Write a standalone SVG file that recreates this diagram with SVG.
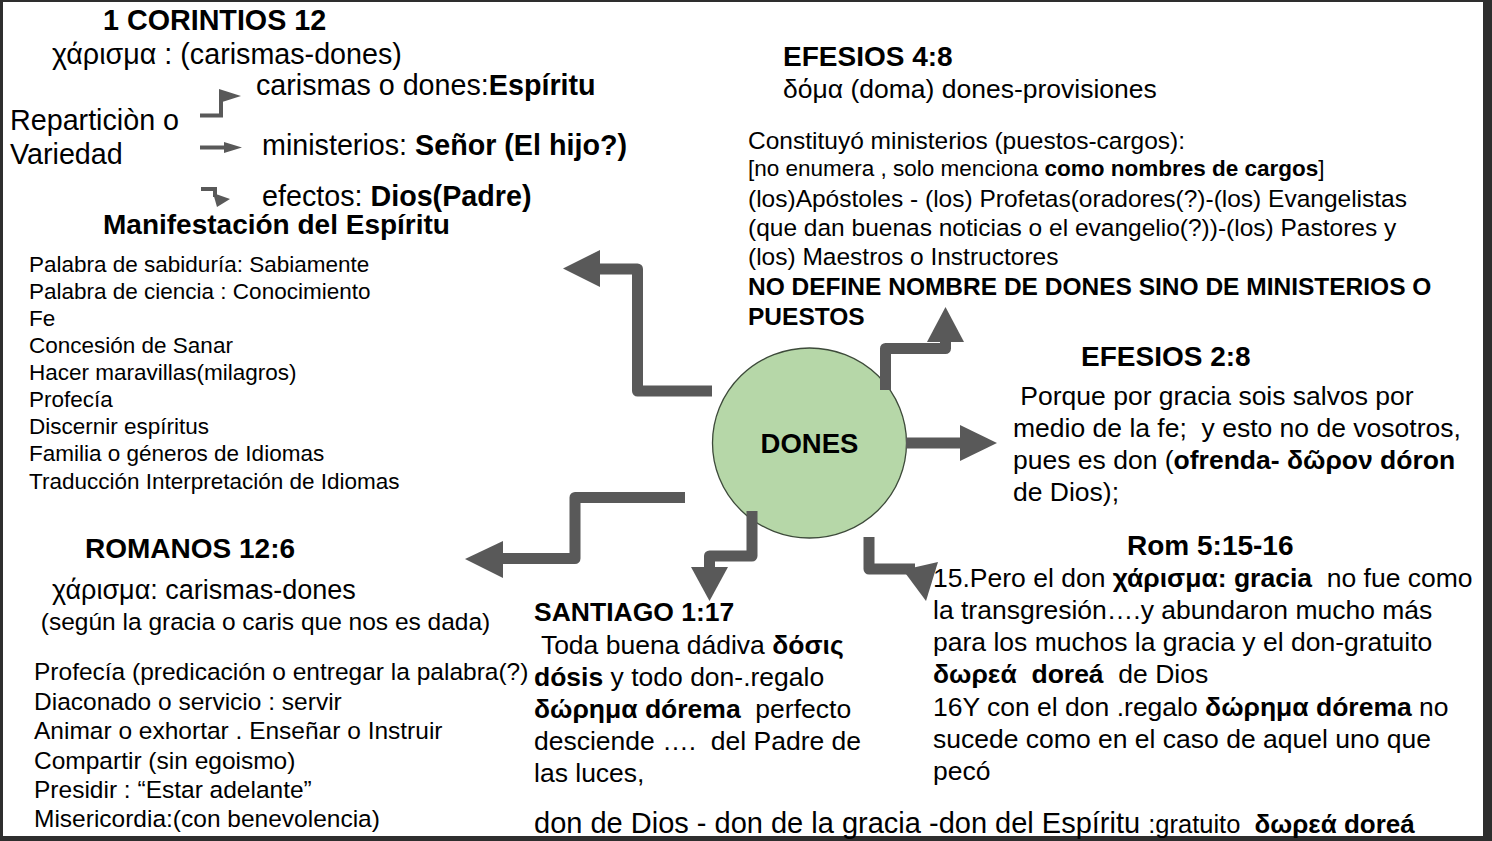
<svg xmlns="http://www.w3.org/2000/svg" width="1492" height="841" viewBox="0 0 1492 841">
<style>
text{font-family:"Liberation Sans",Arial,"DejaVu Sans",sans-serif;fill:#000;white-space:pre}
.b{font-weight:bold}
.f28{font-size:28px}
.f287{font-size:28.7px}
.f265{font-size:26.5px}
.f245{font-size:24.5px}
.f225{font-size:22.5px}
.arr{fill:none;stroke:#595959;stroke-width:11;stroke-linejoin:round}
.sm{fill:none;stroke:#595959;stroke-width:4}
.ah{fill:#595959}
</style>
<rect width="1492" height="841" fill="#2e2e2e"/>
<rect x="3" y="2" width="1480" height="834" fill="#ffffff"/>

<g id="corintios12">
<text x="103" y="30" class="b f287">1 CORINTIOS 12</text>
<text x="52" y="64" class="f287">χάρισμα : (carismas-dones)</text>
<text x="256" y="95" class="f287">carismas o dones:<tspan class="b">Espíritu</tspan></text>
<text x="10" y="130" class="f287">Reparticiòn o</text>
<text x="10" y="164" class="f287">Variedad</text>
<text x="262" y="155" class="f287">ministerios: <tspan class="b">Señor (El hijo?)</tspan></text>
<text x="262" y="206" class="f287">efectos: <tspan class="b">Dios(Padre)</tspan></text>
</g>

<g id="manifestacion">
<text x="103" y="234" class="b f28">Manifestación del Espíritu</text>
<text x="29" y="272" class="f225">Palabra de sabiduría: Sabiamente</text>
<text x="29" y="299" class="f225">Palabra de ciencia : Conocimiento</text>
<text x="29" y="326" class="f225">Fe</text>
<text x="29" y="353" class="f225">Concesión de Sanar</text>
<text x="29" y="380" class="f225">Hacer maravillas(milagros)</text>
<text x="29" y="407" class="f225">Profecía</text>
<text x="29" y="434" class="f225">Discernir espíritus</text>
<text x="29" y="461" class="f225">Familia o géneros de Idiomas</text>
<text x="29" y="489" class="f225">Traducción Interpretación de Idiomas</text>
</g>

<g id="efesios48">
<text x="783" y="66" class="b f28">EFESIOS 4:8</text>
<text x="783" y="98" class="f265">δόμα (doma) dones-provisiones</text>
<text x="748" y="149" class="f245">Constituyó ministerios (puestos-cargos):</text>
<text x="748" y="176" class="f225">[no enumera , solo menciona <tspan class="b">como nombres de cargos</tspan>]</text>
<text x="748" y="207" class="f245">(los)Apóstoles - (los) Profetas(oradores(?)-(los) Evangelistas</text>
<text x="748" y="236" class="f245">(que dan buenas noticias o el evangelio(?))-(los) Pastores y</text>
<text x="748" y="265" class="f245">(los) Maestros o Instructores</text>
<text x="748" y="295" class="b f245">NO DEFINE NOMBRE DE DONES SINO DE MINISTERIOS O</text>
<text x="748" y="325" class="b f245">PUESTOS</text>
</g>

<g id="efesios28">
<text x="1081" y="366" class="b f28">EFESIOS 2:8</text>
<text x="1013" y="405" class="f265"> Porque por gracia sois salvos por</text>
<text x="1013" y="437" class="f265">medio de la fe;  y esto no de vosotros,</text>
<text x="1013" y="469" class="f265">pues es don (<tspan class="b">ofrenda- δῶρον dóron</tspan></text>
<text x="1013" y="501" class="f265">de Dios);</text>
</g>

<g id="rom51516">
<text x="1127" y="555" class="b f28">Rom 5:15-16</text>
<text x="933" y="587" class="f265">15.Pero el don <tspan class="b">χάρισμα: gracia</tspan>  no fue como</text>
<text x="933" y="619" class="f265">la transgresión….y abundaron mucho más</text>
<text x="933" y="651" class="f265">para los muchos la gracia y el don-gratuito</text>
<text x="933" y="683" class="f265"><tspan class="b">δωρεά  doreá</tspan>  de Dios</text>
<text x="933" y="716" class="f265">16Y con el don .regalo <tspan class="b">δώρημα dórema</tspan> no</text>
<text x="933" y="748" class="f265">sucede como en el caso de aquel uno que</text>
<text x="933" y="780" class="f265">pecó</text>
</g>

<g id="santiago117">
<text x="534" y="621" class="b f265">SANTIAGO 1:17</text>
<text x="534" y="654" class="f265"> Toda buena dádiva <tspan class="b">δόσις</tspan></text>
<text x="534" y="686" class="f265"><tspan class="b">dósis</tspan> y todo don-.regalo</text>
<text x="534" y="718" class="f265"><tspan class="b">δώρημα dórema</tspan>  perfecto</text>
<text x="534" y="750" class="f265">desciende ….  del Padre de</text>
<text x="534" y="782" class="f265">las luces,</text>
</g>

<g id="resumen">
<text x="534" y="833" font-size="29">don de Dios - don de la gracia -don del Espíritu <tspan font-size="25.5">:gratuito  </tspan><tspan class="b" font-size="26">δωρεά doreá</tspan></text>
</g>

<g id="romanos126">
<text x="85" y="558" class="b f28">ROMANOS 12:6</text>
<text x="52" y="599" font-size="27">χάρισμα: carismas-dones</text>
<text x="34" y="630" class="f245"> (según la gracia o caris que nos es dada)</text>
<text x="34" y="680" class="f245">Profecía (predicación o entregar la palabra(?)</text>
<text x="34" y="710" class="f245">Diaconado o servicio : servir</text>
<text x="34" y="739" class="f245">Animar o exhortar . Enseñar o Instruir</text>
<text x="34" y="769" class="f245">Compartir (sin egoismo)</text>
<text x="34" y="798" class="f245">Presidir : “Estar adelante”</text>
<text x="34" y="827" class="f245">Misericordia:(con benevolencia)</text>
</g>

<g id="dones">
<ellipse cx="809.5" cy="443" rx="97" ry="95" fill="#b6d7a8" stroke="#3d4a3a" stroke-width="1.3"/>
<text x="809.5" y="453" class="b" font-size="27.5" text-anchor="middle">DONES</text>
</g>

<g id="connectors">
<path class="sm" d="M200,115.5 H221 V95"/>
<polygon class="ah" points="219,89 241,96 219,103"/>
<path class="sm" d="M200,147.5 H226"/>
<polygon class="ah" points="224,142 242,147.5 224,153"/>
<path class="sm" d="M201,189 H215 V197"/>
<polygon class="ah" points="213,193 230,199 217,207"/>

<path class="arr" d="M712,391 H637.5 V269 H598"/>
<polygon class="ah" points="600,250 563,268.5 600,287"/>

<path class="arr" d="M885.5,390 V348.5 H945.5 V338"/>
<polygon class="ah" points="927,342 964,342 945.5,307"/>

<path class="arr" d="M906,443 H962"/>
<polygon class="ah" points="960,425 997,443 960,461"/>

<path class="arr" d="M685,497.5 H575 V558.5 H500"/>
<polygon class="ah" points="503,541 465,559 503,578"/>

<path class="arr" d="M752,511 V556 H709.5 V569"/>
<polygon class="ah" points="691,567 728,567 709.5,601"/>

<path class="arr" d="M869,537 V569 H915"/>
<polygon class="ah" points="903,570 938,562 926,601"/>
</g>
</svg>
